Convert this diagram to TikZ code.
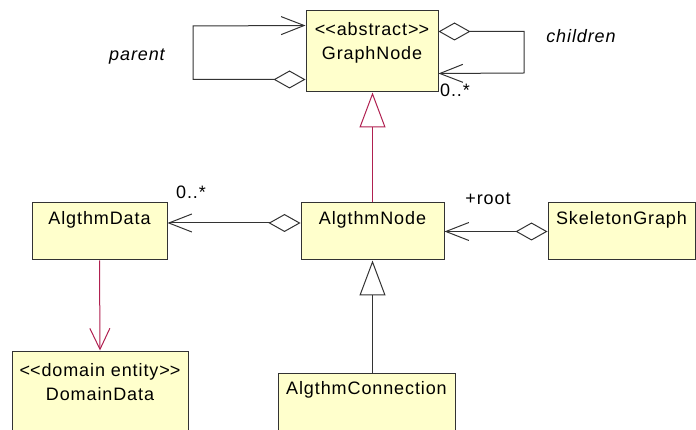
\documentclass[tikz,border=0pt]{standalone}
\usepackage{fontspec}
\setmainfont{Liberation Sans}[LetterSpace=5]
\usetikzlibrary{arrows.meta}

\definecolor{classfill}{RGB}{255,255,204}
\definecolor{genred}{RGB}{176,32,80}

\tikzset{
    classbox/.style={draw=black!80, fill=classfill, line width=1pt, inner sep=0pt},
    classname/.style={font=\fontsize{18}{24}\selectfont, align=center, inner sep=0pt},
    rolename/.style={font=\fontsize{18}{20}\selectfont, inner sep=0pt},
    assoc/.style={draw=black!80, line width=1pt,
        {Diamond[open,length=32pt,width=18pt]}-{Straight Barb[length=23pt,width=18pt]}},
    generalize/.style={draw=black!80, line width=1pt, -{Triangle[open,length=35pt,width=26pt]}},
    depend/.style={draw=genred, line width=1pt, -{Straight Barb[length=21pt,width=20pt]}},
}

\begin{document}
\begin{tikzpicture}[x=1pt,y=-1pt]
    \useasboundingbox (0,0) rectangle (696,430);
    \clip (0,0) rectangle (696,430);

    \node[classbox, minimum width=132pt, minimum height=81pt] (graph) at (372,51.5) {};
    \node[classbox, minimum width=135pt, minimum height=57pt] (algdata) at (99.5,231.5) {};
    \node[classbox, minimum width=143pt, minimum height=57pt] (algnode) at (372.5,231.5) {};
    \node[classbox, minimum width=147pt, minimum height=57pt] (skeleton) at (621.5,231.5) {};
    \node[classbox, minimum width=176pt, minimum height=94pt] (domain) at (100,398) {};
    \node[classbox, minimum width=177pt, minimum height=72pt] (algconn) at (366.5,409) {};

    \node[classname] (graphname) at ([yshift=-32pt]graph.north) {<\kern0pt<abstract>\kern0pt>\\GraphNode};
    \node[classname] (algdataname) at ([yshift=-17pt]algdata.north) {AlgthmData};
    \node[classname] (algnodename) at ([yshift=-17pt]algnode.north) {AlgthmNode};
    \node[classname] (skeletonname) at ([yshift=-17pt]skeleton.north) {SkeletonGraph};
    \node[classname] (domainname) at ([yshift=-32pt]domain.north) {<\kern0pt<domain entity>\kern0pt>\\DomainData};
    \node[classname] (algconnname) at ([yshift=-17pt]algconn.north) {AlgthmConnection};

    \coordinate (parentloop) at (193,26);
    \coordinate (childrenloop) at (524,73);
    \draw[assoc] ([yshift=13pt]graph.south west) -| (parentloop) -- ([yshift=-15pt]graph.north west);
    \draw[assoc] ([yshift=-21pt]graph.north east) -| (childrenloop) -- ([yshift=19pt]graph.south east);
    \draw[assoc] ([yshift=8.5pt]algnode.west) -- ([yshift=8.5pt]algdata.east);
    \draw[assoc] (skeleton.west) -- (algnode.east);

    \draw[generalize, draw=genred] (algnode.north) -- (algnode.north |- graph.south);
    \draw[generalize] (algnode.south |- algconn.north) -- (algnode.south);
    \draw[depend] (algdata.south) -- (domain.north);

    \node[rolename, font=\fontsize{18}{20}\selectfont\itshape] (parentlabel) at (137,57) {parent};
    \node[rolename, font=\fontsize{18}{20}\selectfont\itshape] (childrenlabel) at (581,36) {children};
    \node[rolename] (graphmult) at (455,90) {0..*};
    \node[rolename] (datamult) at (191,192) {0..*};
    \node[rolename] (rootrole) at (488,199) {+root};
\end{tikzpicture}
\end{document}
